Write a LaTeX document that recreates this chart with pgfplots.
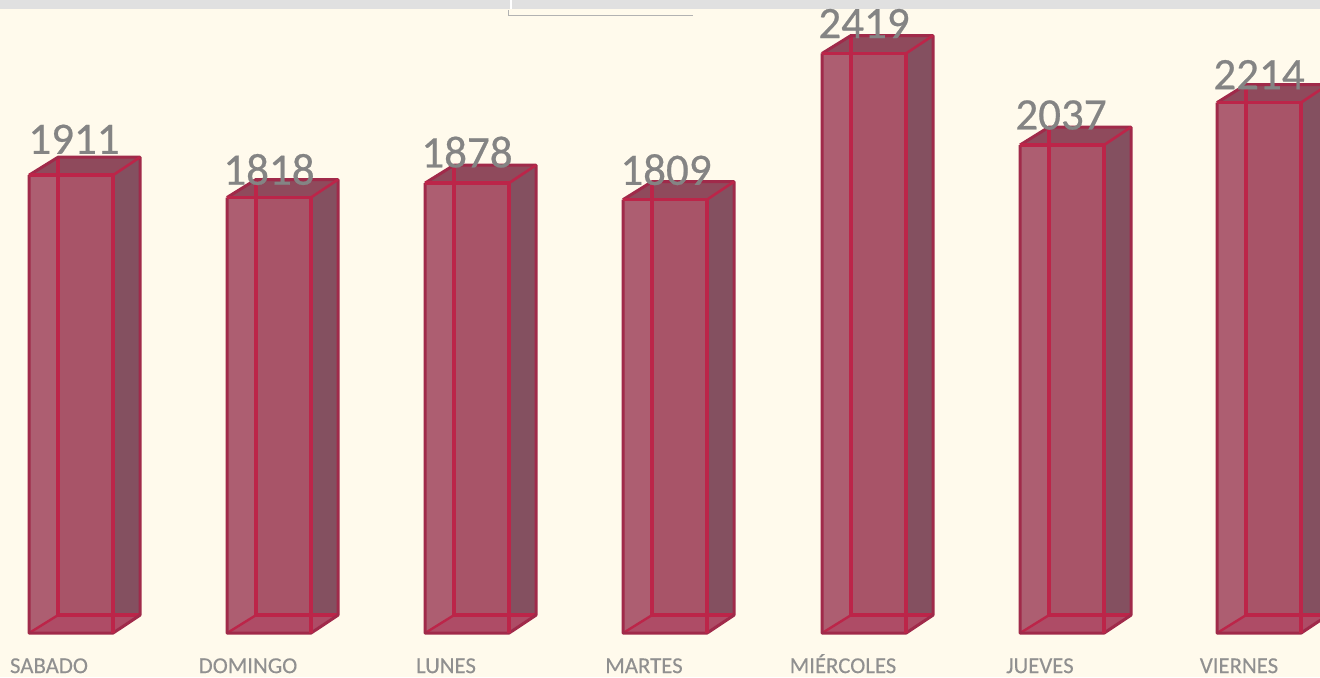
\documentclass[border=0pt]{standalone}
\usepackage{pgfplots}
\usepackage{fontspec}
\setmainfont{Carlito}
\newfontfamily\numfont[FakeBold=0.5]{Carlito}
\newfontfamily\lblfont[FakeBold=0.2]{Carlito}
\pgfplotsset{compat=1.18}
\definecolor{bg}{HTML}{FFFAEC}
\definecolor{band}{HTML}{E0E0E0}
\definecolor{frontc}{HTML}{A85468}
\definecolor{sidec}{HTML}{845060}
\definecolor{topc}{HTML}{8F4A5C}
\definecolor{botc}{HTML}{AE4C66}
\definecolor{edgec}{HTML}{BC2549}
\definecolor{darkedge}{HTML}{A02A4A}
\definecolor{txtc}{HTML}{848484}
\definecolor{lblc}{HTML}{909090}
\pgfplotstableread{
x v dy dx
71 1911 36 3
269 1818 28 0
467 1878 31 0
665 1809 30 1
864 2419 30 0
1061 2037 30 0
1259 2214 28 0
}\bars
% one box: left edge of the front face (px), value
\newcommand\boxbar[2]{%
  \pgfmathsetmacro\xl{#1}%
  \pgfmathsetmacro\xr{#1+84}%
  \pgfmathsetmacro\bl{#1+29}%
  \pgfmathsetmacro\br{#1+111}%
  \pgfmathsetmacro\tv{#2+75}%
  \addplot[draw=none,fill=frontc!94!white,forget plot] coordinates {(\xl,0)(\bl,0)(\bl,#2)(\xl,#2)} --cycle;
  \addplot[draw=none,fill=frontc,forget plot] coordinates {(\bl,75)(\xr,75)(\xr,#2)(\bl,#2)} --cycle;
  \addplot[draw=none,fill=sidec,forget plot] coordinates {(\xr,0)(\br,75)(\br,\tv)(\xr,#2)} --cycle;
  \addplot[draw=none,fill=topc,forget plot] coordinates {(\xl,#2)(\bl,\tv)(\br,\tv)(\xr,#2)} --cycle;
  \addplot[draw=none,fill=botc,forget plot] coordinates {(\xl,0)(\bl,75)(\br,75)(\xr,0)} --cycle;
  \addplot[edgec,line width=3.6pt,forget plot] coordinates {(\bl,\tv)(\bl,75)(\br,75)};
  \addplot[edgec,line width=2.4pt,forget plot] coordinates {(\bl,75)(\xl,0)};
  \addplot[darkedge,line width=3pt,line join=round,forget plot] coordinates {(\xl,#2)(\bl,\tv)(\br,\tv)(\br,75)(\xr,0)(\xl,0)(\xl,#2)};
  \addplot[edgec,line width=3.6pt,line join=round,forget plot] coordinates {(\xl,#2)(\xr,#2)(\xr,0)};
  \addplot[edgec,line width=2.6pt,forget plot] coordinates {(\xr,#2)(\br,\tv)};
}
\begin{document}
\begin{tikzpicture}
\begin{axis}[
  scale only axis,
  width=1320pt,height=677pt,
  xmin=0,xmax=1320,
  ymin=-183.6,ymax=2641.9,
  axis line style={draw=none},
  axis background/.style={fill=bg},
  major tick length=0pt,
  ytick=\empty,
  xtick={49,248,446,644,843,1040,1239},
  xticklabels={SABADO,DOMINGO,LUNES,MARTES,MIÉRCOLES,JUEVES,VIERNES},
  xticklabel style={anchor=base,yshift=4pt,text=lblc,font=\lblfont\fontsize{22.8}{22.8}\selectfont,inner sep=0pt},
  clip=true,
]
% top band of the screenshot
\addplot[draw=none,fill=band,forget plot] coordinates {(0,2604)(1320,2604)(1320,2642)(0,2642)} --cycle;
\addplot[white,line width=2.5pt,forget plot] coordinates {(511,2604)(511,2642)};
\addplot[color=black!30,line width=1pt,forget plot] coordinates {(508,2600)(508,2579)(693,2579)};
% boxes
\boxbar{29}{1911}
\boxbar{227}{1818}
\boxbar{425}{1878}
\boxbar{623}{1809}
\boxbar{822}{2419}
\boxbar{1020}{2037}
\boxbar{1217}{2214}
% value labels
\addplot[draw=none,mark=none,forget plot,
  visualization depends on={\thisrow{dy}\as\dyv},
  visualization depends on={\thisrow{dx}\as\dxv},
  point meta=y,
  /pgf/number format/assume math mode=true,
  /pgf/number format/1000 sep={},
  nodes near coords,
  every node near coord/.append style={anchor=center,inner sep=0pt,xshift=\dxv pt,yshift=\dyv pt,text=txtc,font=\numfont\fontsize{45}{45}\selectfont},
] table[x=x,y=v]{\bars};
\end{axis}
\end{tikzpicture}
\end{document}
